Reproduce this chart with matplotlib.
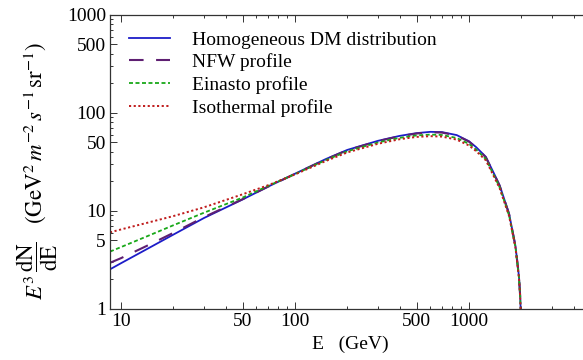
import matplotlib
matplotlib.use("Agg")
import matplotlib.pyplot as plt
from matplotlib.ticker import FixedLocator, FixedFormatter, NullFormatter

plt.rcParams["font.family"] = "Liberation Serif"
plt.rcParams["mathtext.fontset"] = "stix"

# photon energy (GeV) and E^3 dN/dE for each halo profile
energy = [8.65, 10, 15, 20, 30, 50, 70, 100, 150, 200, 300, 400, 500, 600,
          700, 850, 1000, 1100, 1250, 1400, 1500, 1600, 1700, 1800, 1850,
          1900, 1940, 1970, 1985, 1995]
homogeneous = [2.54, 2.93, 4.34, 5.74, 8.48, 13.1, 17.7, 24.0, 33.8, 42.0,
               52.0, 58.4, 62.3, 64.2, 63.8, 59.5, 51.5, 44.8, 35.7, 23.7,
               18.3, 13.0, 9.4, 5.65, 4.4, 2.94, 2.1, 1.35, 0.9, 0.5]
nfw = [2.96, 3.30, 4.65, 5.98, 8.65, 13.2, 17.7, 23.9, 33.6, 41.7, 51.6,
       57.9, 61.7, 63.5, 63.1, 58.9, 51.0, 44.3, 35.3, 23.4, 18.1, 12.9,
       9.3, 5.6, 4.35, 2.92, 2.08, 1.34, 0.9, 0.5]
einasto = [3.85, 4.28, 5.77, 7.15, 9.6, 13.7, 18.0, 23.8, 33.0, 40.7, 50.0,
           55.8, 59.0, 60.2, 59.6, 55.6, 48.4, 42.3, 33.9, 22.6, 17.5, 12.5,
           9.05, 5.48, 4.28, 2.87, 2.06, 1.33, 0.9, 0.5]
isothermal = [6.05, 6.48, 7.78, 8.87, 10.9, 14.8, 18.3, 23.6, 32.3, 39.6,
              48.5, 54.0, 57.0, 58.0, 57.4, 53.5, 46.6, 40.8, 32.9, 22.0,
              17.1, 12.2, 8.9, 5.4, 4.22, 2.84, 2.04, 1.32, 0.9, 0.5]

labels = ["Homogeneous DM distribution", "NFW profile", "Einasto profile",
          "Isothermal profile"]
x_ticks = [10, 50, 100, 500, 1000]
y_ticks = [1, 5, 10, 50, 100, 500, 1000]

fig = plt.figure(figsize=(5.83, 3.6), dpi=100)
ax = fig.add_axes([0.1887, 0.1417, 0.8243, 0.8167])

ax.plot(energy, homogeneous, color="#1c1cc8", lw=1.3, label=labels[0])
ax.plot(energy, nfw, color="#5e1f72", lw=1.5, dashes=(7, 6), label=labels[1])
ax.plot(energy, einasto, color="#19a819", lw=1.3, dashes=(2.2, 1.4), label=labels[2])
ax.plot(energy, isothermal, color="#c01c1c", lw=1.4, dashes=(1.1, 1.3), label=labels[3])

ax.set_xscale("log")
ax.set_yscale("log")
ax.set_xlim(8.65, 5000)
ax.set_ylim(1, 1000)

ax.xaxis.set_major_locator(FixedLocator(x_ticks))
ax.xaxis.set_major_formatter(FixedFormatter([str(t) for t in x_ticks]))
ax.xaxis.set_minor_locator(FixedLocator([20, 30, 40, 60, 70, 80, 90, 200, 300,
                                         400, 600, 700, 800, 900, 2000, 3000, 4000]))
ax.xaxis.set_minor_formatter(NullFormatter())
ax.yaxis.set_major_locator(FixedLocator(y_ticks))
ax.yaxis.set_major_formatter(FixedFormatter([str(t) for t in y_ticks]))
ax.yaxis.set_minor_locator(FixedLocator([2, 3, 4, 6, 7, 8, 9, 20, 30, 40, 60, 70,
                                         80, 90, 200, 300, 400, 600, 700, 800, 900]))
ax.yaxis.set_minor_formatter(NullFormatter())

ax.tick_params(which="both", direction="in", top=True, right=False,
               labelsize=14, width=0.7, colors="#333333", labelcolor="black")
ax.tick_params(which="major", length=5, pad=3)
ax.tick_params(which="minor", length=2.5)
for side in ("left", "bottom", "top"):
    ax.spines[side].set_linewidth(0.9)
    ax.spines[side].set_color("#333333")
ax.spines["right"].set_visible(False)

ax.set_xlabel(r"E   (GeV)", fontsize=14, labelpad=4)
ax.set_ylabel(r"$E^3\,\dfrac{\mathrm{dN}}{\mathrm{dE}}$   "
              r"$(\mathrm{GeV}^2\,m^{-2}\,s^{-1}\,\mathrm{sr}^{-1})$",
              fontsize=16.5)
ax.yaxis.set_label_coords(-0.105, 0.47)

ax.legend(loc="upper left", bbox_to_anchor=(0.015, 0.985), frameon=False,
          fontsize=14, handlelength=2.1, handletextpad=1.15,
          labelspacing=0.245, borderaxespad=0.2)

fig.savefig("out.png", dpi=100)
